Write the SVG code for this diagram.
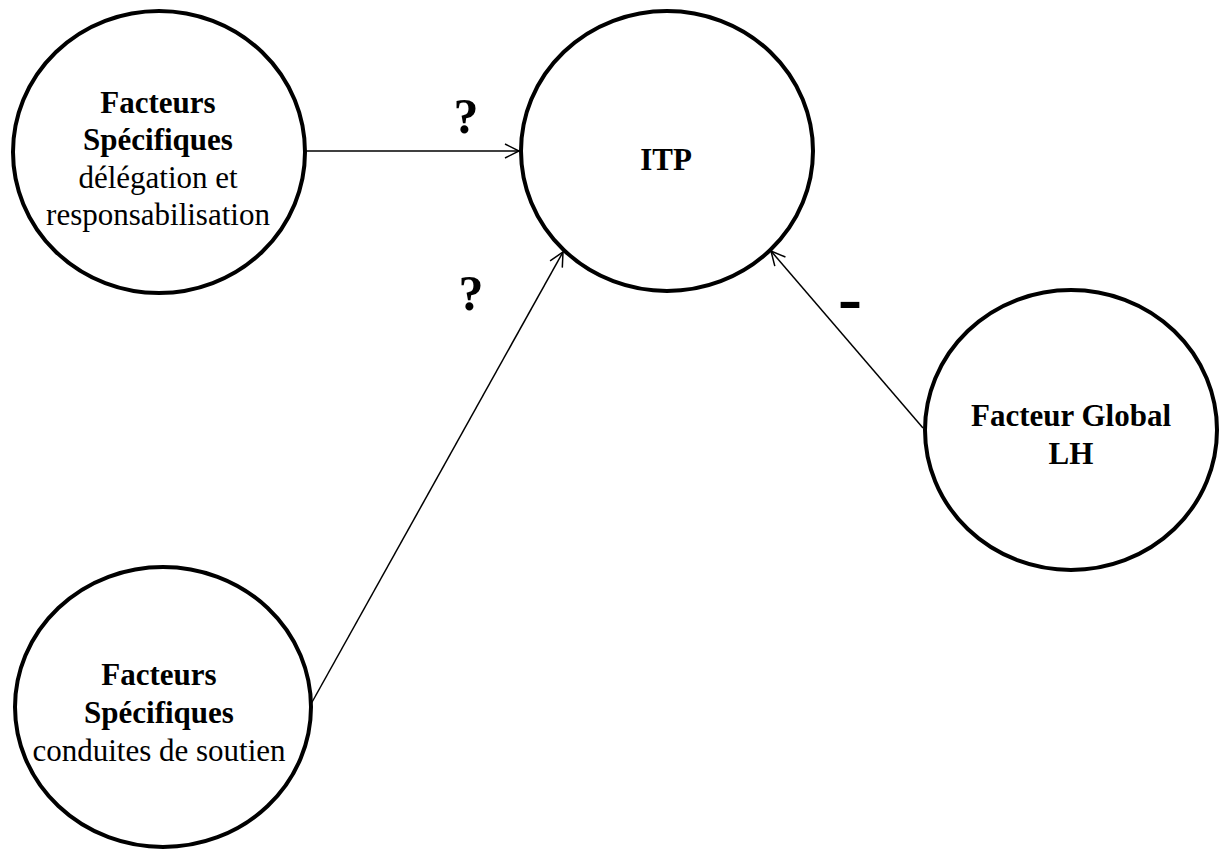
<svg xmlns="http://www.w3.org/2000/svg" width="1220" height="850" viewBox="0 0 1220 850">
<style>
.node{fill:#fff;stroke:#000;stroke-width:4}
.t{font-family:"Liberation Serif","Times New Roman",serif;font-size:31px;text-anchor:middle;fill:#000}
.b{font-weight:bold}
.conn{stroke:#000;stroke-width:1.5;fill:none}
.lbl{font-family:"Liberation Serif","Times New Roman",serif;font-weight:bold;fill:#000;text-anchor:middle}
</style>
<defs>
<marker id="arr" markerWidth="20" markerHeight="20" refX="15" refY="8" orient="auto" markerUnits="userSpaceOnUse">
<path d="M1,1 L15,8 L1,15" fill="none" stroke="#000" stroke-width="1.5"/>
</marker>
</defs>
<rect width="1220" height="850" fill="#fff"/>
<g id="connectors">
<line class="conn" x1="306" y1="151" x2="519" y2="151" marker-end="url(#arr)"/>
<line class="conn" x1="311" y1="704" x2="563" y2="252" marker-end="url(#arr)"/>
<line class="conn" x1="923" y1="428" x2="771" y2="251" marker-end="url(#arr)"/>
</g>
<g id="n-delegation">
<ellipse class="node" cx="159" cy="152" rx="146" ry="141"/>
<text class="t b" x="158" y="113">Facteurs</text>
<text class="t b" x="158" y="150">Spécifiques</text>
<text class="t" x="158" y="188">délégation et</text>
<text class="t" x="158" y="225">responsabilisation</text>
</g>
<g id="n-itp">
<ellipse class="node" cx="667" cy="151" rx="146" ry="140"/>
<text class="t b" x="666" y="170">ITP</text>
</g>
<g id="n-global">
<ellipse class="node" cx="1071" cy="430" rx="146" ry="140"/>
<text class="t b" x="1071" y="426">Facteur Global</text>
<text class="t b" x="1071" y="464">LH</text>
</g>
<g id="n-soutien">
<ellipse class="node" cx="163" cy="707" rx="148" ry="140"/>
<text class="t b" x="159" y="685">Facteurs</text>
<text class="t b" x="159" y="723">Spécifiques</text>
<text class="t" x="159" y="761">conduites de soutien</text>
</g>
<g id="labels">
<text class="lbl" x="466" y="133" font-size="50">?</text>
<text class="lbl" x="471" y="310" font-size="50">?</text>
<text class="lbl" x="850" y="322" font-size="72">-</text>
</g>
</svg>
